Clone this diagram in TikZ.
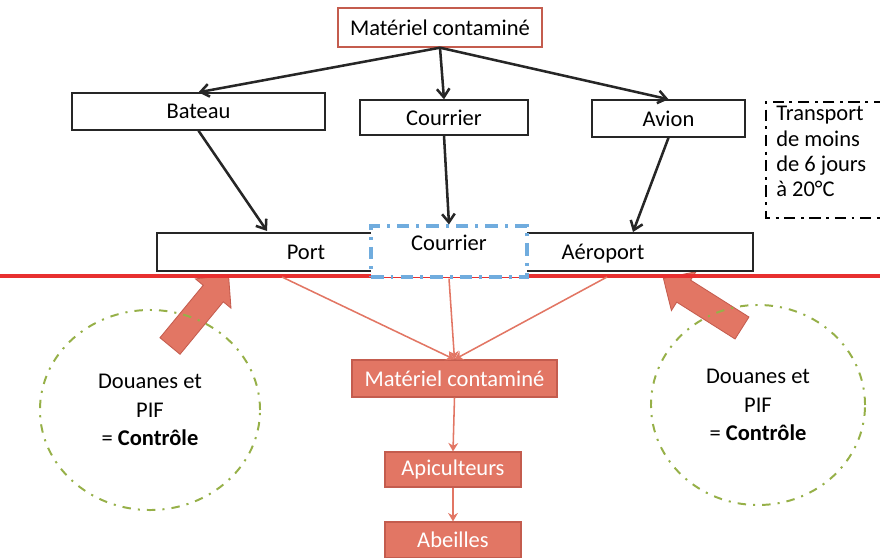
\documentclass[tikz,border=0pt]{standalone}
\usepackage{fontspec}
\setmainfont{Carlito}
\usetikzlibrary{arrows.meta,positioning,calc,shapes.geometric}

\definecolor{saumon}{RGB}{226,118,100}
\definecolor{saumonfonce}{RGB}{196,92,78}
\definecolor{rouge}{RGB}{232,48,48}
\definecolor{olive}{RGB}{150,176,72}
\definecolor{bleuclair}{RGB}{112,172,222}

\tikzset{
  txt/.style={font=\fontsize{16}{19}\selectfont},
  boite/.style={txt,draw=black!85,line width=1pt,fill=white,inner sep=0pt},
  rouge boite/.style={txt,draw=saumonfonce,line width=1pt,inner sep=0pt},
  plein/.style={txt,fill=saumon,draw=saumonfonce,line width=0.8pt,text=white,inner sep=0pt},
  fleche/.style={-{Straight Barb[length=6pt,width=9pt]},line width=1.8pt,black!85},
  lien/.style={-{Stealth[length=6pt,width=7pt]},line width=1.1pt,saumon},
  bloc/.style={fill=saumon,draw=saumonfonce,line width=0.6pt},
  controle/.style={ellipse,draw=olive,line width=1.4pt,align=center,
    font=\fontsize{16}{20.5}\selectfont,
    dash pattern=on 6pt off 5pt on 1.5pt off 5pt},
}

\begin{document}
\begin{tikzpicture}[x=0.025cm,y=-0.025cm]
  \useasboundingbox (0,0) rectangle (880,558);

  % big entry arrows go first, the border line is drawn over them
  % (drawn along x from the tail, then turned into place)
  \begin{scope}[shift={(170,346)},rotate=50.5]
    \filldraw[bloc] (0,-13) -- (68,-13) -- (68,-23) -- (92,0) -- (68,23) -- (68,13) -- (0,13) -- cycle;
  \end{scope}
  \begin{scope}[shift={(742,328)},rotate=147.7]
    \filldraw[bloc] (0,-13) -- (69,-13) -- (69,-23) -- (93,0) -- (69,23) -- (69,13) -- (0,13) -- cycle;
  \end{scope}

  % ways of transport
  \node[rouge boite,minimum width=5.1cm,minimum height=0.975cm] (source) at (440,27.5) {Matériel contaminé};
  \node[boite,minimum width=6.33cm,minimum height=0.925cm] (bateau) at (198.5,111.5) {Bateau};
  \node[boite,minimum width=4.2cm,minimum height=0.875cm] (courrier) at (444,117.5) {Courrier};
  \node[boite,minimum width=3.83cm,minimum height=0.925cm] (avion) at (668.5,118.5) {Avion};

  \draw[line width=1.4pt,dash pattern=on 8pt off 4pt on 2pt off 4pt] (885,102) -- (766,102) -- (766,218) -- (885,218);
  \node[txt,anchor=north west,align=left,inner sep=0pt,font=\fontsize{16}{18}\selectfont] (transport) at (776,106)
    {Transport\\de moins\\de 6 jours\\à 20°C};

  % entry points
  \node[boite,minimum width=14.9cm,minimum height=0.95cm] (arrivee) at (455,252) {};
  \node[txt] (port) at (306,252) {Port};
  \node[txt] (aeroport) at (603,254) {Aéroport};
  \draw[rouge,line width=2.2pt] (0,276) -- (880,276);
  \node[draw=bleuclair,fill=white,line width=2.2pt,dash pattern=on 9pt off 5pt on 2pt off 5pt,
    minimum width=3.9cm,minimum height=1.275cm] (poste) at (449,251.5) {};
  \node[txt] (postetxt) at (449,243) {Courrier};

  \coordinate (portIn) at (267,231);
  \coordinate (aeroIn) at (633,232);
  \draw[fleche] (source.south) -- (bateau.north);
  \draw[fleche] (source.south) -- (courrier.north);
  \draw[fleche] (source.south) -- (avion.north);
  \draw[fleche] (bateau.south) -- (portIn);
  \draw[fleche] (courrier.south) -- (poste.north);
  \draw[fleche] (avion.south) -- (aeroIn);

  % inside the country
  \node[plein,minimum width=5.125cm,minimum height=0.925cm] (materiel) at (454.5,378.5) {Matériel contaminé};
  \node[plein,minimum width=3.4cm,minimum height=0.875cm] (apiculteurs) at (453,469.5) {Apiculteurs};
  \node[plein,minimum width=3.4cm,minimum height=0.9cm] (abeilles) at (453,540) {Abeilles};

  \coordinate (sortiePort) at (282,277);
  \coordinate (sortieAero) at (607,277);
  \draw[lien] (sortiePort) -- (materiel.north);
  \draw[lien] (poste.south) -- (materiel.north);
  \draw[lien] (sortieAero) -- (materiel.north);
  \draw[lien] (materiel.south) -- (apiculteurs.north);
  \draw[lien] (apiculteurs.south) -- (abeilles.north);

  % controls
  \node[controle,minimum width=5.5cm,minimum height=5cm] (douaneG) at (150,410)
    {Douanes et\\PIF\\= \textbf{Contrôle}};
  \node[controle,minimum width=5.35cm,minimum height=5cm] (douaneD) at (758,405)
    {Douanes et\\PIF\\= \textbf{Contrôle}};
\end{tikzpicture}
\end{document}
